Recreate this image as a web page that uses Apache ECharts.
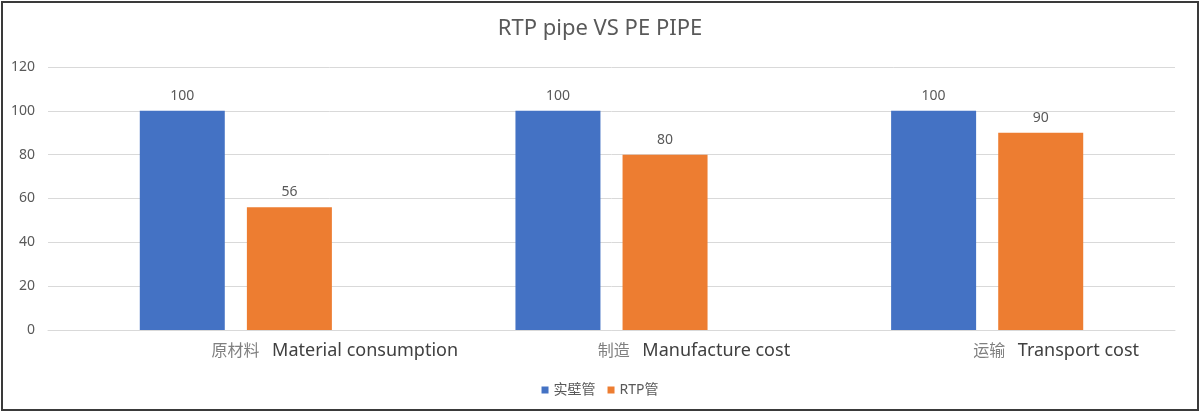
<!DOCTYPE html>
<html>
<head>
<meta charset="utf-8">
<title>RTP pipe VS PE PIPE</title>
<script src="https://cdn.jsdelivr.net/npm/echarts@6/dist/echarts.min.js"></script>
<style>
  html, body { margin: 0; padding: 0; background: #fff; }
  #chart { position: absolute; left: 0; top: 0; width: 1200px; height: 415px; }
  #frame { position: absolute; left: 1px; top: 1px; width: 1194px; height: 406px;
           border: 2px solid #3a3a3a; pointer-events: none; }
</style>
</head>
<body>
<div id="chart"></div>
<div id="frame"></div>
<script>
// 数据
var categoriesCn = ['原材料', '制造', '运输'];
var categoriesEn = ['Material consumption', 'Manufacture cost', 'Transport cost'];
var solidPipe = [100, 100, 100];   // 实壁管
var rtpPipe = [56, 80, 90];        // RTP管
var yTicks = { min: 0, max: 120, interval: 20 };

var categories = categoriesCn.map(function (c, i) { return c + '  ' + categoriesEn[i]; });

var FONT = '"Noto Sans", "Noto Sans CJK SC", sans-serif';

// 标签左侧留白，让文字偏右
var padWidths = [198, 165, 138];

var chart = echarts.init(document.getElementById('chart'));

var labelRich = {
    cn: { fontSize: 16, color: '#7f7f7f', fontFamily: FONT },
    en: { fontSize: 18, color: '#404040', fontFamily: FONT }
};
padWidths.forEach(function (w, i) {
    labelRich['p' + i] = { width: w, fontSize: 15 };
});

var option = {
    textStyle: { fontFamily: FONT },
    title: {
        text: 'RTP pipe VS PE PIPE',
        left: 'center',
        top: 13,
        textStyle: { fontSize: 22, fontWeight: 'normal', color: '#595959', fontFamily: FONT }
    },
    legend: {
        data: ['实壁管', 'RTP管'],
        top: 378,
        left: 'center',
        icon: 'rect',
        itemWidth: 7,
        itemHeight: 7,
        itemGap: 12,
        textStyle: { fontSize: 14, color: '#595959', fontFamily: FONT }
    },
    grid: { left: 48, right: 25, top: 67, bottom: 85 },
    xAxis: {
        type: 'category',
        data: categories,
        axisLine: { lineStyle: { color: '#d9d9d9' } },
        axisTick: { show: false },
        axisLabel: {
            margin: 12,
            interval: 0,
            formatter: function (value, index) {
                return '{p' + index + '| }{cn|' + categoriesCn[index] + '   }{en|' + categoriesEn[index] + '}';
            },
            rich: labelRich
        }
    },
    yAxis: {
        type: 'value',
        min: yTicks.min,
        max: yTicks.max,
        interval: yTicks.interval,
        axisLine: { show: false },
        axisTick: { show: false },
        axisLabel: { fontSize: 14, color: '#595959', margin: 13, fontFamily: FONT },
        splitLine: { lineStyle: { color: '#d9d9d9' } }
    },
    series: [
        {
            name: '实壁管',
            type: 'bar',
            data: solidPipe,
            barWidth: 85,
            barGap: '26%',
            itemStyle: { color: '#4472c4' },
            label: { show: true, position: 'top', distance: 8, fontSize: 14, color: '#595959', fontFamily: FONT }
        },
        {
            name: 'RTP管',
            type: 'bar',
            data: rtpPipe,
            barWidth: 85,
            itemStyle: { color: '#ed7d31' },
            label: { show: true, position: 'top', distance: 8, fontSize: 14, color: '#595959', fontFamily: FONT }
        }
    ]
};
chart.setOption(option);
</script>
</body>
</html>
